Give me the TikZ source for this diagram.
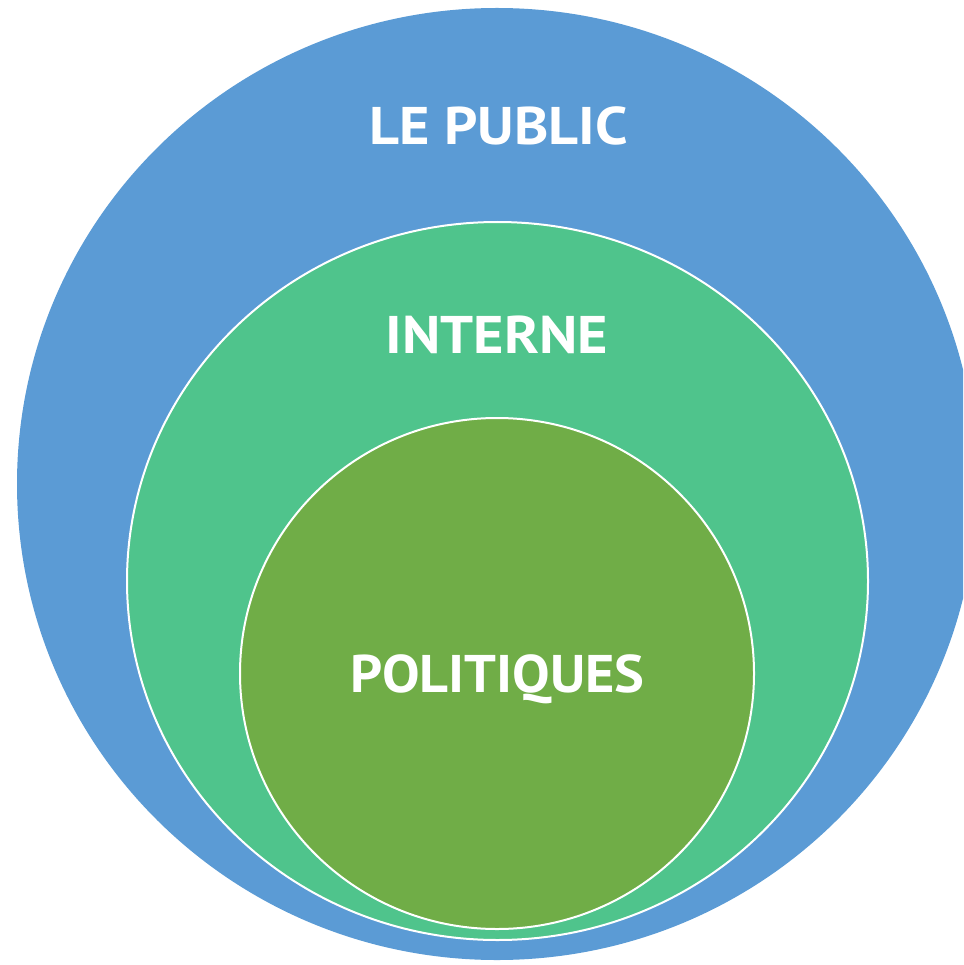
\documentclass[tikz,border=0pt]{standalone}
\usepackage{fontspec}
\setmainfont{PT Sans}
\definecolor{cblue}{HTML}{5B9BD5}
\definecolor{cgreen}{HTML}{4FC48C}
\definecolor{colive}{HTML}{70AD47}
\begin{document}
\begin{tikzpicture}[x=1pt,y=-1pt,
  lbl/.style={text=white,font=\fontsize{53}{53}\selectfont\bfseries,anchor=base,inner sep=0pt},
  ring/.style={draw=white,line width=2pt}]
\useasboundingbox (0,0) rectangle (963,965);
\begin{scope}
\clip (0,0) rectangle (963,965);
\fill[cblue] (497,484) ellipse [x radius=480, y radius=476];
\end{scope}
\draw[ring,fill=cgreen] (497.5,581) ellipse [x radius=370.5, y radius=359];
\draw[ring,fill=colive] (497,673.5) ellipse [x radius=257, y radius=255.5];
\node[lbl] (public) at (498.5,145) {\scalebox{1.1}[1]{LE PUBLIC}};
\node[lbl] (interne) at (497,353) {\scalebox{1.1}[1]{INTERNE}};
\node[lbl] (politiques) at (497.5,692) {\scalebox{1.06}[1]{POLITIQUES}};
\end{tikzpicture}
\end{document}
